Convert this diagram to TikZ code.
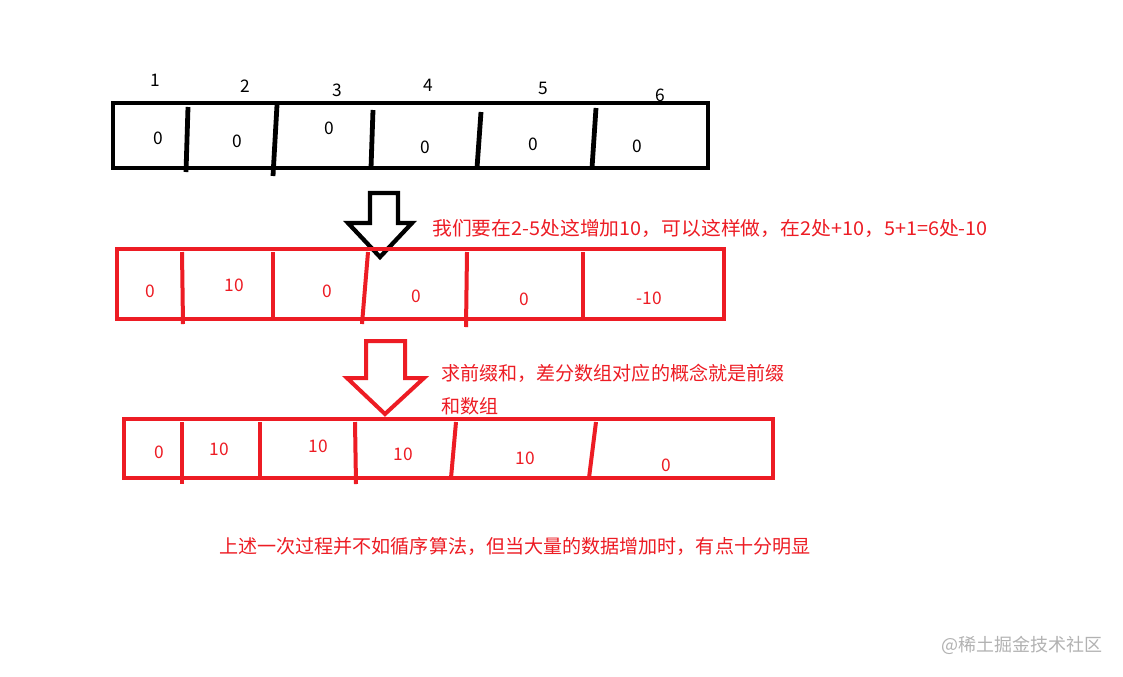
\documentclass[tikz,border=0pt]{standalone}
\usepackage{fontspec}
\usepackage{graphicx}
\newfontfamily\cjk{Noto Sans CJK SC}
\definecolor{pred}{RGB}{237,28,36}
\definecolor{wm}{RGB}{178,178,178}
\begin{document}
\begin{tikzpicture}[x=0.75pt,y=-0.75pt,
  blk/.style={draw=black,line width=3.6pt},
  redl/.style={draw=pred,line width=3pt},
  num/.style={font=\cjk\fontsize{13}{13}\selectfont,text=black,inner sep=0pt},
  rnum/.style={font=\cjk\fontsize{13}{13}\selectfont,text=pred,inner sep=0pt},
  note/.style={font=\cjk\fontsize{14.3}{20}\selectfont,text=pred,inner sep=0pt,anchor=west}]
\useasboundingbox (0,0) rectangle (1123,676);
\fill[white] (0,0) rectangle (1123,676);

% ---- row 1 (black) ----
\draw[blk] (113,103) rectangle (708,168);
\draw[blk] (188,107) -- (186,172);
\draw[blk] (277,105) -- (273,176);
\draw[blk] (373,110) -- (371,168);
\draw[blk] (481,112) -- (477,168);
\draw[blk] (596,108) -- (592,168);
\node[num] (i1) at (155,80) {1};
\node[num] (i2) at (245,86) {2};
\node[num] (i3) at (337,90) {3};
\node[num] (i4) at (428,85) {4};
\node[num] (i5) at (543,88) {5};
\node[num] (i6) at (660,95) {6};
\node[num] (a1) at (158,138) {0};
\node[num] (a2) at (237,141) {0};
\node[num] (a3) at (329,128) {0};
\node[num] (a4) at (425,147) {0};
\node[num] (a5) at (533,144) {0};
\node[num] (a6) at (637,146) {0};

% ---- arrow 1 ----
\draw[draw=black,line width=3.2pt,line join=miter]
  (370,193) -- (398,193) -- (398,223) -- (412,223) -- (380,257) -- (348,223) -- (370,223) -- cycle;
\node[note] (t1) at (432,228) {\scalebox{1.04}[1]{我们要在2-5处这增加10，可以这样做，在2处+10，5+1=6处-10}};

% ---- row 2 (red) ----
\draw[redl] (117,249) rectangle (724,319);
\draw[redl] (182,252) -- (183,324);
\draw[redl] (273,252) -- (273,318);
\draw[redl] (368,252) -- (362,324);
\draw[redl] (467,252) -- (466,327);
\draw[redl] (583,252) -- (583,318);
\node[rnum] (b1) at (150,291) {0};
\node[rnum] (b2) at (234,285) {10};
\node[rnum] (b3) at (327,291) {0};
\node[rnum] (b4) at (416,296) {0};
\node[rnum] (b5) at (524,299) {0};
\node[rnum] (b6) at (649,298) {-10};

% ---- arrow 2 ----
\draw[draw=pred,line width=3pt,line join=miter]
  (366,341) -- (405,341) -- (405,378) -- (424,378) -- (385,414) -- (347,378) -- (366,378) -- cycle;
\node[note] (t2a) at (441,373) {求前缀和，差分数组对应的概念就是前缀};
\node[note] (t2b) at (441,406) {和数组};

% ---- row 3 (red) ----
\draw[redl] (124,419) rectangle (773,478);
\draw[redl] (182,422) -- (182,484);
\draw[redl] (260,422) -- (260,478);
\draw[redl] (355,422) -- (356,484);
\draw[redl] (456,422) -- (451,478);
\draw[redl] (596,422) -- (589,478);
\node[rnum] (c1) at (159,452) {0};
\node[rnum] (c2) at (219,449) {10};
\node[rnum] (c3) at (318,446) {10};
\node[rnum] (c4) at (403,454) {10};
\node[rnum] (c5) at (525,458) {10};
\node[rnum] (c6) at (666,465) {0};

\node[note] (t3) at (219,546) {上述一次过程并不如循序算法，但当大量的数据增加时，有点十分明显};
\node[font=\cjk\fontsize{13.5}{16}\selectfont,text=wm,inner sep=0pt,anchor=east] (wmk) at (1103,645) {@稀土掘金技术社区};
\end{tikzpicture}
\end{document}
